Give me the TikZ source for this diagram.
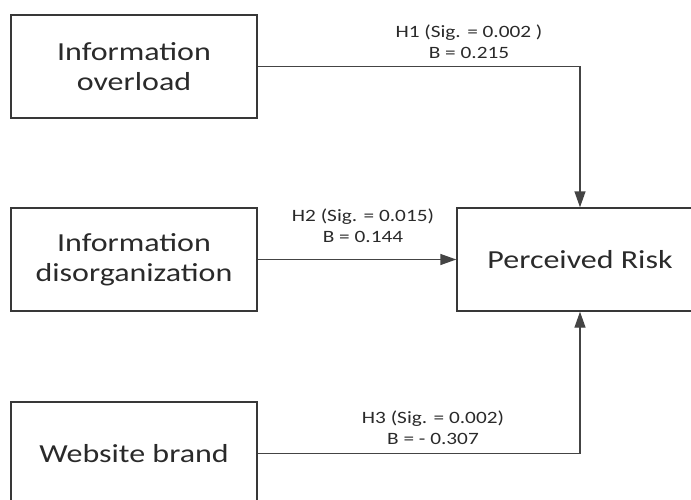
\documentclass[tikz,border=0pt]{standalone}
\usepackage{fontspec}
\setmainfont{Carlito}[FakeStretch=1.23]
\usetikzlibrary{arrows.meta}
\definecolor{boxgray}{HTML}{383838}
\definecolor{linegray}{HTML}{444444}
\definecolor{textgray}{HTML}{2A2A2A}
\tikzset{
    factor box/.style = {draw=boxgray, line width=1.4pt, minimum width=246pt, minimum height=103pt,
        inner sep=0pt, align=center, text=textgray, font=\fontsize{26pt}{30pt}\selectfont},
    path edge/.style = {draw=linegray, line width=1.4pt, -{Triangle[length=16pt, width=11pt]}},
    hyp label/.style = {align=center, text=textgray, inner sep=0pt, font=\fontsize{17.3pt}{21pt}\selectfont},
}

\begin{document}
\begin{tikzpicture}[x=1pt, y=1pt]
				\useasboundingbox (0, 0) rectangle (691, -500);
				\node[factor box] (overload) at (134, -66.5) {Information\\overload};
				\node[factor box] (disorg) at (134, -259.5) {Information\\disorganization};
				\node[factor box] (brand) at (134, -453.5) {Website brand};
				\node[factor box] (risk) at (580, -259.5) {Perceived Risk};

				\node[hyp label] (h1) at (469, -42) {H1 (Sig. = 0.002 )\\B = 0.215};
				\node[hyp label] (h2) at (363, -225.5) {H2 (Sig. = 0.015)\\B = 0.144};
				\node[hyp label] (h3) at (433, -428) {H3 (Sig. = 0.002)\\B = - 0.307};

				\draw[path edge] (overload.east) -| (risk.north);
				\draw[path edge] (disorg.east) -- (risk.west);
				\draw[path edge] (brand.east) -| (risk.south);
			\end{tikzpicture}
\end{document}
